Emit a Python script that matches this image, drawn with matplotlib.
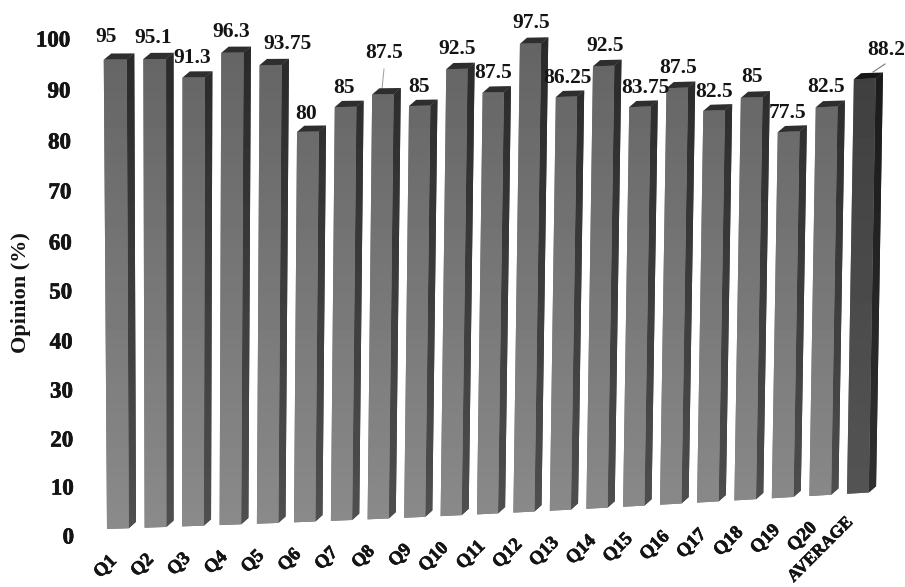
import numpy as np
import matplotlib
matplotlib.use("Agg")
import matplotlib.pyplot as plt
import matplotlib.patheffects as pe
from matplotlib.transforms import Transform

categories = ["Q1", "Q2", "Q3", "Q4", "Q5", "Q6", "Q7", "Q8", "Q9", "Q10", "Q11", "Q12", "Q13", "Q14",
              "Q15", "Q16", "Q17", "Q18", "Q19", "Q20", "AVERAGE"]
values = [95, 95.1, 91.3, 96.3, 93.75, 80, 85, 87.5, 85, 92.5, 87.5, 97.5, 86.25, 92.5,
          83.75, 87.5, 82.5, 85, 77.5, 82.5, 88.2]
value_labels = ["95", "95.1", "91.3", "96.3", "93.75", "80", "85", "87.5", "85", "92.5", "87.5", "97.5", "86.25", "92.5",
                "83.75", "87.5", "82.5", "85", "77.5", "82.5", "88.2"]
y_ticks = [0, 10, 20, 30, 40, 50, 60, 70, 80, 90, 100]

# layout, all in pixels of the scanned page
label_xy = [(106, 37), (153, 38), (192, 58), (231, 32), (287, 44), (306, 114), (344, 88), (384, 53), (419, 87),
            (457, 49), (493, 73), (531, 23), (567, 78), (605, 46), (645, 88), (678, 68), (714, 92), (752, 77),
            (788, 113), (826, 87), (886, 50)]
y_tick_py = [538, 489, 441, 392, 343, 293, 244, 193, 143, 92, 41]


class PageTransform(Transform):
    # (bar number, percent) -> page pixels; the scan is tilted, warped and a bit in perspective
    input_dims = 2
    output_dims = 2

    def transform_non_affine(self, values):
        values = np.asarray(values, dtype=float)
        i, v = values[:, 0], values[:, 1]
        lean = 8 - 11.4 * np.exp(-i / 5)
        px = 107 + 37 * i + 2 * np.sin(np.pi * i / 10) + v / 100 * lean
        py = 529 - 1.76 * i + 3 * np.sin(np.pi * i / 20) - v * (4.94 - 0.012 * i)
        return np.column_stack((px, py))


fig = plt.figure(figsize=(9.05, 5.87), dpi=100)
ax = fig.add_axes([0, 0, 1, 1])
page = PageTransform() + ax.transData
serif = "Liberation Serif"
ink = [pe.withStroke(linewidth=0.5, foreground="#141414")]

bar_w = 0.58
dx = 0.19
dv = 1.25
x = np.arange(len(values))
# grey shading of the faces, darker up the page
shade = np.linspace(0.38, 0.56, 64).reshape(-1, 1)
side_shade = np.linspace(0.15, 0.33, 64).reshape(-1, 1)


def shade_patch(patch, arr):
    im = ax.imshow(arr, extent=[0, 905, 587, 0], cmap="gray", vmin=0, vmax=1, aspect="auto", zorder=2)
    im.set_clip_path(patch.get_path(), patch.get_transform())


for i, v in zip(x, values):
    dark = categories[i] == "AVERAGE"
    left = i
    right = i + bar_w
    k = 0.62 if dark else 1
    side = ax.fill([right, right + dx, right + dx, right], [0, dv, v + dv, v], color="#333333", lw=0, transform=page)[0]
    shade_patch(side, side_shade * k)
    ax.fill([left, left + dx, right + dx, right], [v, v + dv, v + dv, v], color="#161616" if dark else "#2e2e2e", lw=0,
            transform=page, zorder=3)
    front = ax.bar(left, v, width=bar_w, align="edge", color="#777777", lw=0, transform=page)[0]
    shade_patch(front, shade * k)

ax.set_xlim(0, 905)
ax.set_ylim(587, 0)
ax.axis("off")

for (px, py), s in zip(label_xy, value_labels):
    ax.text(px, py, s, ha="center", va="center", family=serif, weight="bold", fontsize=15.5, color="#141414", zorder=5)

for t, py in zip(y_ticks, y_tick_py):
    ax.text(74 - 0.04 * t, py, str(t), ha="right", va="center", family=serif, weight="bold", fontsize=16.5,
            color="#141414", zorder=5, path_effects=ink)

for i, s in enumerate(categories):
    bx = 108 + 36.85 * i
    by = 529 - 1.76 * i + 3 * np.sin(np.pi * i / 20) + 23.5
    size = 13.5
    if s == "AVERAGE":
        # long label runs to the page edge, keep it inside
        size = 12.5
        by -= 3
    ax.text(bx, by, s, rotation=45, rotation_mode="anchor", ha="right", va="top", family=serif, weight="bold",
            fontsize=size, color="#141414", zorder=5, path_effects=ink)

ax.text(21, 293, "Opinion (%)", rotation=90, ha="center", va="center", family=serif, weight="bold", fontsize=16,
        color="#141414")

# leader lines of the moved labels
ax.plot([384, 382], [69, 89], color="#999999", lw=0.7)
ax.plot([885, 873], [64, 72], color="#777777", lw=0.8)

fig.savefig("out.png", dpi=100)
